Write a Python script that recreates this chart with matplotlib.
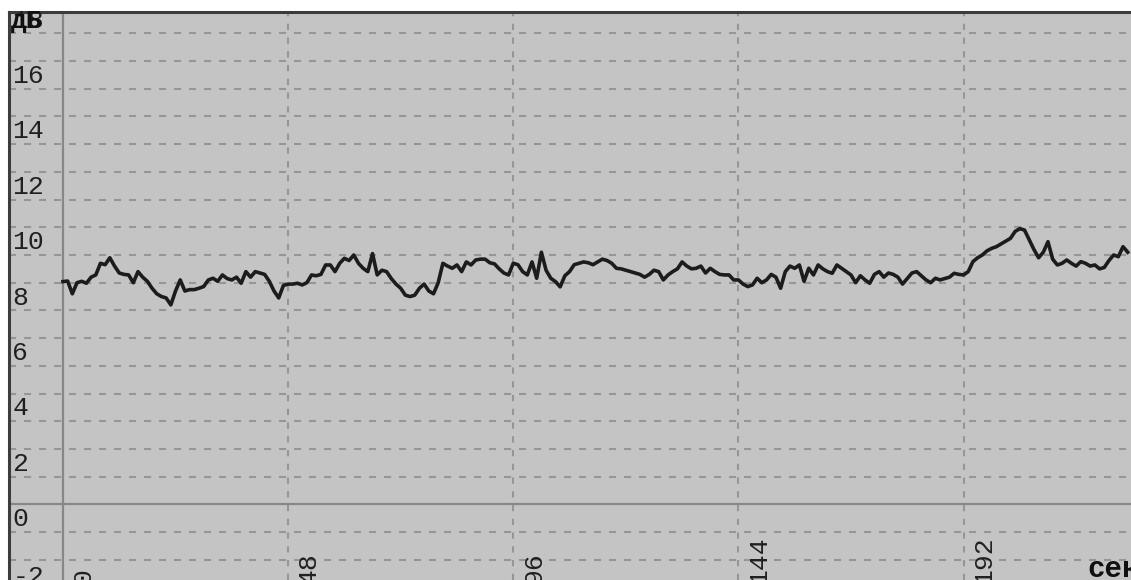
import matplotlib
matplotlib.use('Agg')
import matplotlib.pyplot as plt
import numpy as np

# уровень, дБ, по одной точке на единицу оси X (0..227)
levels = [
    9.04, 9.06, 8.60, 9.00, 9.05, 8.98, 9.20, 9.28, 9.70, 9.65,
    9.90, 9.60, 9.35, 9.30, 9.28, 9.00, 9.40, 9.20, 9.05, 8.80,
    8.60, 8.50, 8.45, 8.20, 8.70, 9.10, 8.70, 8.75, 8.75, 8.80,
    8.86, 9.10, 9.16, 9.05, 9.28, 9.15, 9.10, 9.20, 8.98, 9.40,
    9.20, 9.40, 9.35, 9.30, 9.05, 8.70, 8.45, 8.90, 8.95, 8.95,
    8.98, 8.92, 9.00, 9.28, 9.25, 9.30, 9.64, 9.64, 9.40, 9.70,
    9.88, 9.80, 10.00, 9.70, 9.52, 9.40, 10.05, 9.28, 9.45, 9.40,
    9.15, 8.95, 8.80, 8.55, 8.50, 8.55, 8.80, 8.95, 8.70, 8.60,
    9.00, 9.70, 9.60, 9.52, 9.64, 9.40, 9.75, 9.64, 9.82, 9.85,
    9.85, 9.72, 9.68, 9.50, 9.35, 9.28, 9.70, 9.65, 9.40, 9.28,
    9.75, 9.16, 10.10, 9.45, 9.16, 9.04, 8.85, 9.25, 9.40, 9.65,
    9.70, 9.75, 9.72, 9.65, 9.75, 9.85, 9.80, 9.70, 9.52, 9.50,
    9.45, 9.40, 9.35, 9.30, 9.20, 9.30, 9.45, 9.40, 9.10, 9.28,
    9.40, 9.50, 9.75, 9.60, 9.50, 9.52, 9.60, 9.35, 9.52, 9.40,
    9.30, 9.28, 9.28, 9.10, 9.10, 8.95, 8.86, 8.92, 9.16, 9.00,
    9.10, 9.30, 9.20, 8.80, 9.40, 9.60, 9.52, 9.64, 9.05, 9.52,
    9.28, 9.64, 9.50, 9.40, 9.34, 9.64, 9.52, 9.40, 9.28, 9.00,
    9.25, 9.10, 8.98, 9.30, 9.40, 9.20, 9.35, 9.30, 9.20, 8.95,
    9.15, 9.35, 9.40, 9.25, 9.10, 9.00, 9.16, 9.10, 9.15, 9.20,
    9.34, 9.30, 9.28, 9.40, 9.76, 9.90, 10.00, 10.15, 10.24, 10.30,
    10.40, 10.50, 10.60, 10.85, 10.95, 10.90, 10.55, 10.20, 9.90, 10.10,
    10.48, 9.85, 9.64, 9.70, 9.82, 9.70, 9.60, 9.76, 9.70, 9.60,
    9.64, 9.50, 9.55, 9.80, 10.00, 9.94, 10.30, 10.10,
]
times = list(range(len(levels)))

y_ticks = [0, 2, 4, 6, 8, 10, 12, 14, 16]
x_ticks = [0, 48, 96, 144, 192]
x_unit = "сек"
y_unit = "дБ"

bg = "#c4c4c4"
grid_col = "#969696"
mono = "Liberation Mono"
fs = 19

fig = plt.figure(figsize=(11.31, 5.80), dpi=100)
ax = fig.add_axes([9 / 1131, 0, 1122 / 1131, 568 / 580])
ax.set_facecolor(bg)
ax.set_xlim(-11.5, 227.7)
ax.set_ylim(-1.73, 18.77)

# пунктирная сетка
for v in range(-1, 19):
    if v == 1:
        continue
    ax.axhline(v, color=grid_col, lw=1.5, ls=(0, (3.4, 3.8)), zorder=1)
for t in x_ticks[1:]:
    ax.axvline(t, color=grid_col, lw=1.5, ls=(0, (3.0, 3.6)), zorder=1)

# сплошные оси
ax.axvline(0, color="#878787", lw=1.6, zorder=2)
ax.axhline(1, color="#878787", lw=1.6, zorder=2)

ax.plot(times, levels, color="#1c1c1c", lw=2.6, zorder=3)

# подписи по Y (стоят на своих линиях)
for v in y_ticks:
    ax.text(-10.8, v + 0.03, str(v), family=mono, fontsize=fs,
            color="#202020", ha="left", va="bottom", zorder=4)
ax.text(-10.8, -1.2, "-2", family=mono, fontsize=fs,
        color="#202020", ha="left", va="top", zorder=4)
ax.text(-10.8, 18.03, "18", family=mono, fontsize=fs,
        color="#202020", ha="left", va="bottom", zorder=4)
ax.text(-11.1, 18.03, y_unit, family=mono, fontsize=fs, weight="bold",
        color="#101010", ha="left", va="bottom", zorder=5)

# подписи по X (повёрнуты)
for t in x_ticks:
    ax.text(t + 1.9, -1.88, str(t), family=mono, fontsize=fs,
            color="#202020", rotation=90, ha="left", va="bottom", zorder=4)
ax.text(218.3, -1.62, x_unit, family=mono, fontsize=21, weight="bold",
        color="#101010", ha="left", va="baseline", zorder=4)

ax.set_xticks([])
ax.set_yticks([])
for s in ["right", "bottom"]:
    ax.spines[s].set_visible(False)
for s in ["left", "top"]:
    ax.spines[s].set_color("#3c3c3c")
    ax.spines[s].set_linewidth(2.2)

fig.savefig("out.png", dpi=100, facecolor="white")
